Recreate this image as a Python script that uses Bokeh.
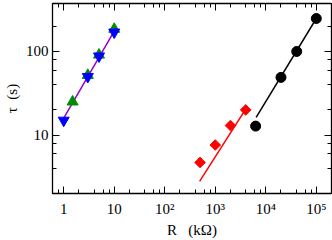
from bokeh.plotting import figure
from bokeh.models import LogAxis, LogTicker, Range1d
from bokeh.embed import file_html
from bokeh.resources import INLINE

# data
blue_R = [1, 3, 5, 10]
blue_tau = [15, 50, 88, 170]
green_R = [1.5, 3, 5, 10]
green_tau = [25, 52, 91, 185]
red_R = [500, 1000, 2000, 4000]
red_tau = [4.7, 7.6, 13, 20]
black_R = [6300, 20000, 41000, 100000]
black_tau = [12.8, 49, 100, 248]

purple_fit_R = [1, 10]
purple_fit_tau = [16, 175]
red_fit_R = [490, 4000]
red_fit_tau = [2.8, 20.4]
black_fit_R = [6450, 100000]
black_fit_tau = [16.3, 248]

x_tick_labels = {1: "1", 10: "10", 100: "10²", 1000: "10³", 10000: "10⁴", 100000: "10⁵"}
y_tick_labels = {10: "10", 100: "100"}

FONT = "Liberation Serif"

p = figure(width=332, height=240, x_axis_type="log", y_axis_type="log",
           x_range=Range1d(0.6, 2.0e5), y_range=Range1d(2.0, 375),
           output_backend="svg", toolbar_location=None,
           min_border_left=47, min_border_right=1, min_border_top=3, min_border_bottom=42)
p.xgrid.visible = False
p.ygrid.visible = False
p.outline_line_color = "black"
p.background_fill_color = "white"
p.border_fill_color = "white"

def style_axis(ax, labels=None):
    ax.major_tick_in = 7
    ax.major_tick_out = 0
    ax.minor_tick_in = 4
    ax.minor_tick_out = 0
    ax.axis_line_color = "black"
    ax.axis_line_width = 1.3
    ax.major_tick_line_color = "black"
    ax.minor_tick_line_color = "black"
    ax.major_label_text_font = FONT
    ax.major_label_text_color = "black"
    ax.axis_label_text_font = FONT
    ax.axis_label_text_font_style = "normal"
    ax.axis_label_text_color = "black"
    ax.axis_label_text_font_size = "15px"
    if labels is None:
        ax.major_label_text_font_size = "1px"
        ax.major_label_text_alpha = 0
        ax.major_label_standoff = 0
        ax.axis_label_standoff = 0
    else:
        ax.major_label_text_font_size = "15px"
        ax.major_label_overrides = labels

xax = p.xaxis[0]
yax = p.yaxis[0]
xax.ticker = LogTicker(desired_num_ticks=6)
yax.ticker = LogTicker(desired_num_ticks=2)
style_axis(xax, x_tick_labels)
style_axis(yax, y_tick_labels)
xax.axis_label = "R\u00a0\u00a0\u00a0(kΩ)"
yax.axis_label = "τ\u00a0\u00a0(s)"
xax.major_label_standoff = 7
xax.axis_label_standoff = 2
yax.major_label_standoff = 4
yax.axis_label_standoff = 3

top = LogAxis(ticker=LogTicker(desired_num_ticks=6))
style_axis(top)
p.add_layout(top, "above")
right = LogAxis(ticker=LogTicker(desired_num_ticks=2))
style_axis(right)
p.add_layout(right, "right")

p.line(purple_fit_R, purple_fit_tau, line_color="#9400D3", line_width=1.5)
p.line(red_fit_R, red_fit_tau, line_color="red", line_width=1.5)
p.line(black_fit_R, black_fit_tau, line_color="black", line_width=1.5)

p.scatter(green_R, green_tau, marker="triangle", size=11, color="#008c00")
p.scatter(blue_R, blue_tau, marker="inverted_triangle", size=11, color="blue")
p.scatter(red_R, red_tau, marker="square", angle=0.785398, size=7.5, color="red")
p.scatter(black_R, black_tau, marker="circle", size=10, color="black")

open("out.html", "w").write(file_html(p, INLINE))
